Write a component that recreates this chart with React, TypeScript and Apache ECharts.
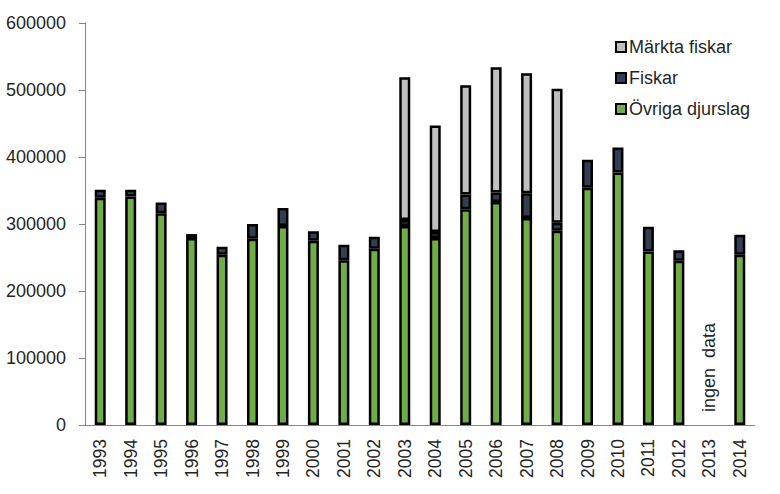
import React, { useEffect, useRef } from "react";
import * as echarts from "echarts";

const years = ["1993","1994","1995","1996","1997","1998","1999","2000","2001","2002","2003","2004","2005","2006","2007","2008","2009","2010","2011","2012","2013","2014"];
const ovriga = [339000,341000,316000,279000,254000,278000,297000,275000,246000,263000,297000,279000,322000,333000,309000,290000,354000,377000,259000,245000,null,254000];
const fiskar = [12000,10000,16000,6000,12000,22000,27000,14000,23000,18000,9000,9000,22000,14000,37000,12000,42000,37000,37000,16000,null,30000];
const markta = [null,null,null,null,null,null,null,null,null,null,213000,159000,163000,187000,179000,200000,null,null,null,null,null,null];
const noDataYear = "2013";
const noDataText = "ingen  data";

const FONT = "Liberation Sans";
const TXT = "#262626";

export default function App() {
  const ref = useRef<HTMLDivElement>(null);
  useEffect(() => {
    const chart = echarts.init(ref.current!, null, { renderer: "svg" });
    const bar = (name: string, data: any[], color: string) => ({
      name,
      type: "bar",
      stack: "total",
      data,
      barWidth: 11,
      itemStyle: { color, borderColor: "#000000", borderWidth: 2.5, borderType: "solid" },
      emphasis: { disabled: true },
    });
    chart.setOption({
      animation: false,
      textStyle: { fontFamily: FONT },
      grid: { left: 85, right: 25, top: 23, bottom: 69, containLabel: false },
      legend: {
        orient: "vertical",
        left: 610,
        top: 33,
        icon: "rect",
        itemWidth: 10,
        itemHeight: 10,
        itemGap: 13,
        data: ["Märkta fiskar", "Fiskar", "Övriga djurslag"],
        textStyle: { fontFamily: FONT, fontSize: 18, color: TXT, padding: [0, 0, 0, -2] },
        itemStyle: { borderColor: "#000", borderWidth: 2 },
      },
      xAxis: {
        type: "category",
        data: years,
        axisLine: { lineStyle: { color: "#868686", width: 1 } },
        axisTick: { length: 7, lineStyle: { color: "#868686" } },
        axisLabel: { rotate: 90, fontSize: 17.5, color: TXT, margin: 14, fontFamily: FONT, interval: 0 },
      },
      yAxis: {
        type: "value",
        min: 0,
        max: 600000,
        interval: 100000,
        splitLine: { show: false },
        axisLine: { show: true, lineStyle: { color: "#868686", width: 1 } },
        axisTick: { show: true, length: 6, lineStyle: { color: "#868686" } },
        axisLabel: { fontSize: 18, color: TXT, margin: 19, fontFamily: FONT, formatter: (v: number) => String(v) },
      },
      series: [
        bar("Övriga djurslag", ovriga, "#70AD47"),
        bar("Fiskar", fiskar, "#333F50"),
        bar("Märkta fiskar", markta, "#BFBFBF"),
      ],
    });
    const p = chart.convertToPixel({ xAxisIndex: 0, yAxisIndex: 0 }, [noDataYear, 0]) as number[];
    chart.setOption({
      graphic: [
        {
          type: "text",
          x: p[0],
          y: p[1] - 13,
          rotation: Math.PI / 2,
          style: {
            text: noDataText,
            fontFamily: FONT,
            fontSize: 18,
            fill: TXT,
            align: "left",
            verticalAlign: "middle",
          },
        },
      ],
    });
    return () => chart.dispose();
  }, []);
  return <div ref={ref} style={{ width: 780, height: 494, position: "absolute", left: 0, top: 0 }} />;
}
